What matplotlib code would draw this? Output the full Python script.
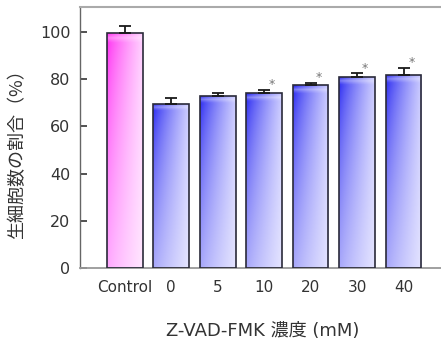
import matplotlib
matplotlib.use('Agg')
import matplotlib.pyplot as plt
import numpy as np

plt.rcParams['font.family'] = ['DejaVu Sans', 'Noto Sans CJK JP']

# データ
categories = ['Control', '0', '5', '10', '20', '30', '40']
values = [99.6, 69.6, 72.9, 74.0, 77.3, 81.0, 81.9]
errors = [3.0, 2.3, 1.0, 1.4, 1.1, 1.5, 2.8]
significant = [False, False, False, True, True, True, True]
yticks = [0, 20, 40, 60, 80, 100]


def gradient_colors(kind):
    # 左上, 右上, 左下, 右下
    if kind == 'magenta':
        return [(255, 30, 240), (255, 205, 255), (255, 165, 255), (255, 230, 255)]
    return [(25, 25, 240), (200, 200, 255), (165, 165, 250), (228, 228, 255)]


def draw_gradient_bar(ax, x, h, width, kind):
    tl, tr, bl, br = [np.array(c) / 255.0 for c in gradient_colors(kind)]
    nx, ny = 60, 100
    t = np.linspace(0, 1, nx)[None, :, None] ** 0.8
    s = np.linspace(0, 1, ny)[:, None, None] ** 0.6
    top = tl * (1 - t) + tr * t
    bot = bl * (1 - t) + br * t
    img = top * (1 - s) + bot * s
    # 上端のハイライト
    hl = np.exp(-((np.linspace(0, 1, ny) - 0.02) / 0.012) ** 2)[:, None, None]
    img = img * (1 - 0.35 * hl) + 0.35 * hl
    rect = plt.Rectangle((x - width / 2, 0), width, h, facecolor='none',
                         edgecolor='#2a2a3a', linewidth=1.2, zorder=3)
    ax.add_patch(rect)
    im = ax.imshow(img, extent=(x - width / 2, x + width / 2, 0, h),
                   origin='upper', aspect='auto', zorder=2, interpolation='bilinear')
    im.set_clip_path(rect)


fig = plt.figure(figsize=(4.41, 3.47), dpi=100)
ax = fig.add_axes([80 / 441, (347 - 268) / 347, 1 - 80 / 441 + 0.01, (268 - 7) / 347])

width = 0.77
xs = np.arange(len(categories))
for i, (v, e) in enumerate(zip(values, errors)):
    kind = 'magenta' if i == 0 else 'blue'
    draw_gradient_bar(ax, xs[i], v, width, kind)

ax.errorbar(xs, values, yerr=[np.zeros(len(values)), errors], fmt='none',
            ecolor='#1a1a1a', elinewidth=1.3, capsize=4.5, capthick=1.3, zorder=4)

for i, sig in enumerate(significant):
    if sig:
        ax.text(xs[i] + 0.17, values[i] + errors[i] - 0.6, '*', ha='center',
                va='bottom', fontsize=9, color='#777777', zorder=5)

ax.set_xlim(-0.96, 6.9)
ax.set_ylim(0, 110.5)
ax.set_yticks(yticks)
ax.set_xticks(xs)
ax.set_xticklabels(categories)
ax.tick_params(axis='y', direction='in', length=5, width=1.1, color='#222222',
               labelsize=11.5, pad=7, labelcolor='#333333')
ax.tick_params(axis='x', length=0, labelsize=11, pad=9, labelcolor='#333333')

ax.spines['right'].set_visible(False)
ax.spines['top'].set_color('#aaaaaa')
ax.spines['top'].set_linewidth(1.5)
ax.spines['bottom'].set_color('#999999')
ax.spines['bottom'].set_linewidth(1.3)
ax.spines['left'].set_color('#666666')
ax.spines['left'].set_linewidth(1.0)

fig.text(263 / 441, 1 - 331 / 347, 'Z-VAD-FMK 濃度 (mM)', ha='center', va='center',
         fontsize=13, color='#333333')
fig.text(17 / 441, 1 - 150 / 347, '生細胞数の割合（%）', ha='center', va='center',
         rotation=90, fontsize=13, color='#333333',
         family=['Noto Sans CJK JP', 'DejaVu Sans'])

fig.savefig('out.png', dpi=100)
